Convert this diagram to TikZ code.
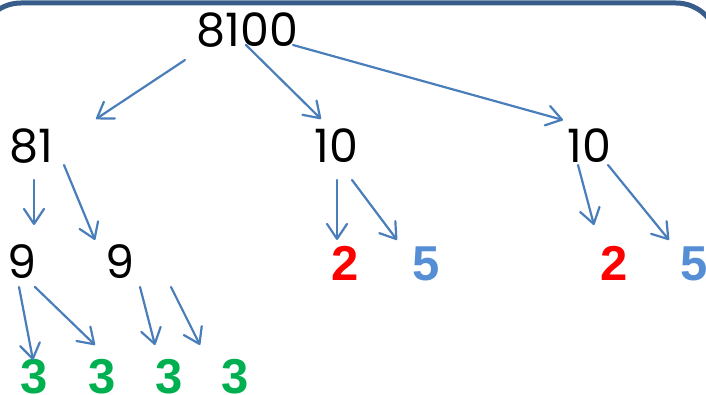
\documentclass[tikz,border=0pt]{standalone}
\usepackage{fontspec}
\setmainfont{Poppins}
\newfontfamily\boldfont{Liberation Sans}
\usetikzlibrary{arrows.meta,positioning}
\definecolor{arrowblue}{HTML}{4A7EBB}
\definecolor{frameblue}{HTML}{385D8A}
\definecolor{fivecol}{HTML}{558ED5}
\definecolor{threecol}{HTML}{00B050}
\tikzset{
  >={Straight Barb[length=15pt,width=20pt,round]},
  num/.style={anchor=base,inner sep=0pt,font=\fontsize{46}{46}\selectfont},
  prime/.style={anchor=base,inner sep=0pt,font=\boldfont\bfseries\fontsize{49}{49}\selectfont},
  arr/.style={->,arrowblue,line width=2.2pt,line cap=round},
  frame/.style={draw=frameblue,line width=5pt,rounded corners=42pt},
}

\begin{document}
\begin{tikzpicture}[x=1pt,y=1pt]

\useasboundingbox (0,0) rectangle (706,-395);
\draw[frame] (-21,-3) rectangle (718,-520);

% numbers
\node[num] (top) at (247.5,-47) {8100};
\node[num] (f81) at (31.5,-163) {81};
\node[num] (f10a) at (336.5,-163) {10};
\node[num] (f10b) at (589.5,-163) {10};
\node[num] (f9a) at (21.5,-278) {9};
\node[num] (f9b) at (120,-278) {9};

% prime factors
\node[prime,red] (p2a) at (345.5,-280) {2};
\node[prime,fivecol] (p5a) at (426.5,-280) {5};
\node[prime,red] (p2b) at (614.5,-280) {2};
\node[prime,fivecol] (p5b) at (694,-280) {5};
\node[prime,threecol] (p3a) at (34.5,-393) {3};
\node[prime,threecol] (p3b) at (102.5,-393) {3};
\node[prime,threecol] (p3c) at (169.5,-393) {3};
\node[prime,threecol] (p3d) at (235.5,-393) {3};

\path[arr]
([shift={(-62.5,-13)}]top.base) edge ([shift={(64.5,44)}]f81.base)
([shift={(-1.5,2)}]top.base) edge ([shift={(-15.5,44)}]f10a.base)
([shift={(45.5,2)}]top.base) edge ([shift={(-26.5,43)}]f10b.base)

([shift={(2.5,-17)}]f81.base) edge ([shift={(12.5,53)}]f9a.base)
([shift={(32.5,-2)}]f81.base) edge ([shift={(-25,38)}]f9b.base)

([shift={(0.5,-17)}]f10a.base) edge ([shift={(-8.5,40)}]p2a.base)
([shift={(15.5,-17)}]f10a.base) edge ([shift={(-29.5,40)}]p5a.base)

([shift={(-11.5,-2)}]f10b.base) edge ([shift={(-20.5,55)}]p2b.base)
([shift={(18.5,-2)}]f10b.base) edge ([shift={(-25,40)}]p5b.base)

([shift={(-2.5,-9)}]f9a.base) edge ([shift={(-1.5,33)}]p3a.base)
([shift={(13.5,-9)}]f9a.base) edge ([shift={(-7.5,48)}]p3b.base)
([shift={(20,-9)}]f9b.base) edge ([shift={(-14.5,48)}]p3c.base)
([shift={(51,-9)}]f9b.base) edge ([shift={(-35.5,48)}]p3d.base);

\end{tikzpicture}
\end{document}
